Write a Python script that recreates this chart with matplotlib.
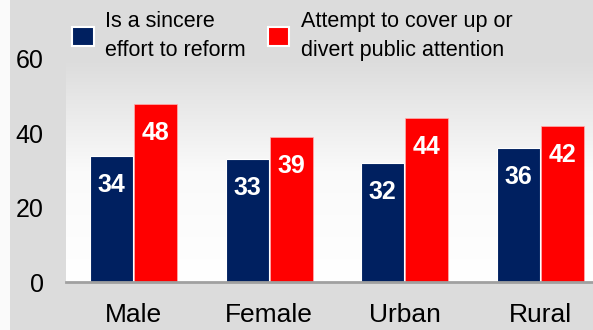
import numpy as np
import matplotlib
matplotlib.use("Agg")
from matplotlib import pyplot as plt
from matplotlib.patches import Patch, Rectangle

categories = ["Male", "Female", "Urban", "Rural"]
sincere = [34, 33, 32, 36]
cover_up = [48, 39, 44, 42]
labels = ["Is a sincere\neffort to reform", "Attempt to cover up or\ndivert public attention"]
yticks = [0, 20, 40, 60]

blue = "#002060"
red = "#ff0000"

plt.rcParams['font.family'] = ['Liberation Sans', 'DejaVu Sans']

fig = plt.figure(figsize=(5.93, 3.30), dpi=100, facecolor="#dcdcdc")
# white strip at the left edge
fig.patches.append(Rectangle((0, 0), 10 / 593, 1, transform=fig.transFigure,
                             facecolor="#fafafa", edgecolor="none", zorder=0))

ax = fig.add_axes([66 / 593, 48 / 330, 1 - 66 / 593, 223 / 330])
ax.set_facecolor("none")

# vertical gradient background: gray at top, white at bottom
grad = np.linspace(0, 1, 256).reshape(-1, 1)
cmap = matplotlib.colors.LinearSegmentedColormap.from_list("bg", ["#ffffff", "#fafafa", "#dcdcdc"])
ax.imshow(grad, aspect="auto", cmap=cmap, extent=[0, 1, 0, 1], transform=ax.transAxes,
          origin="lower", zorder=0)

x = np.arange(len(categories))
w = 0.317
b1 = ax.bar(x - w / 2 - 0.003, sincere, w, color=blue, edgecolor="white", linewidth=0.8, zorder=2)
b2 = ax.bar(x + w / 2 + 0.003, cover_up, w, color=red, edgecolor="#ffb0b0", linewidth=0.5, zorder=2)

for bars, vals in [(b1, sincere), (b2, cover_up)]:
    for bar, v in zip(bars, vals):
        ax.annotate(str(v), (bar.get_x() + bar.get_width() / 2, v), xytext=(0, -29),
                    textcoords="offset pixels", ha="center", va="center",
                    color="white", fontsize=18, fontweight="bold", zorder=3)

ax.set_xlim(-0.5, 3.39)
ax.set_ylim(0, 60)
ax.set_xticks(x)
ax.set_xticklabels(categories, fontsize=19)
ax.set_yticks(yticks)
ax.set_yticklabels([str(t) for t in yticks], fontsize=18)
ax.tick_params(axis="both", length=0)
ax.tick_params(axis="x", pad=15)
ax.tick_params(axis="y", pad=16)
for s in ["top", "right", "left"]:
    ax.spines[s].set_visible(False)
ax.spines["bottom"].set_color("#a0a0a0")
ax.spines["bottom"].set_linewidth(2)
ax.spines["bottom"].set_zorder(4)

handles = [Patch(facecolor=blue, edgecolor="white", linewidth=1.5),
           Patch(facecolor=red, edgecolor="white", linewidth=1.5)]
leg = fig.legend(handles, labels, loc="upper left", bbox_to_anchor=(72 / 593, 1 - 11 / 330),
                 ncol=2, frameon=False, fontsize=15.5, handlelength=1.0, handleheight=1.0,
                 handletextpad=0.55, columnspacing=1.0, borderpad=0, borderaxespad=0,
                 labelspacing=0.2)
for t in leg.get_texts():
    t.set_linespacing(1.5)

fig.savefig("out.png", dpi=100, facecolor=fig.get_facecolor())
